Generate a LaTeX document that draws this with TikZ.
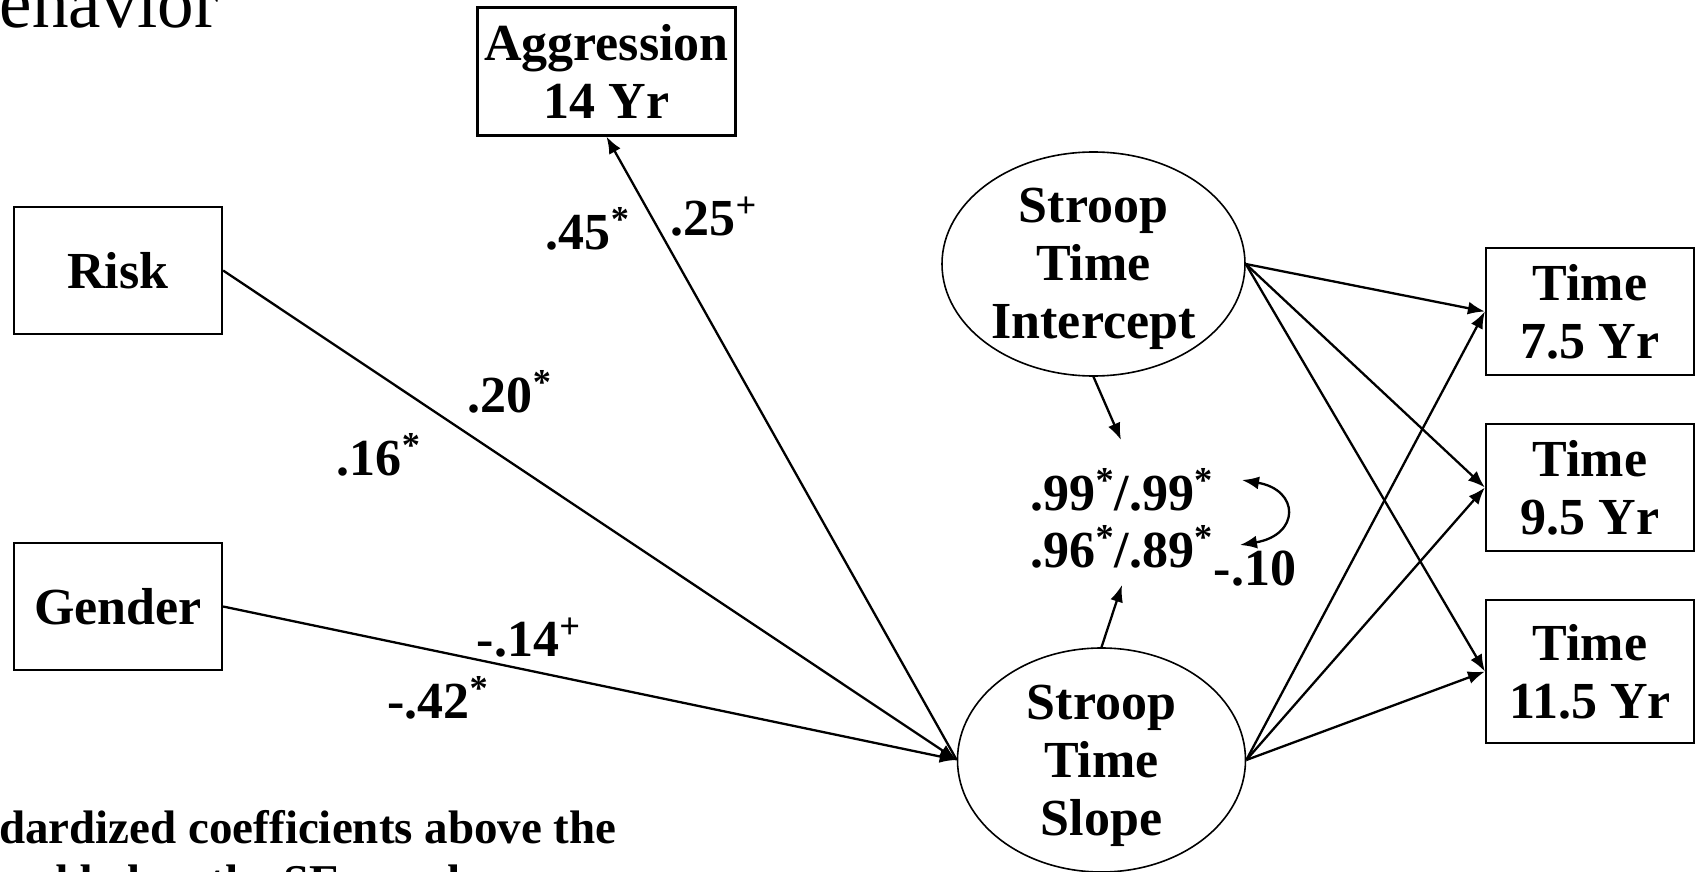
\documentclass[tikz,border=0pt]{standalone}
\usepackage{fontspec}
\setmainfont{Liberation Serif}
\usetikzlibrary{arrows.meta,shapes.geometric}
\newcommand{\lblfont}{\fontsize{26}{29}\selectfont\bfseries}
\newcommand{\sig}{\textsuperscript{*}}
\newcommand{\trend}{\textsuperscript{+}}

\begin{document}
\begin{tikzpicture}[x=0.5pt, y=-0.5pt, >={Latex[length=8.5pt,width=6.5pt]},
    box/.style={draw, rectangle, line width=1.1pt, minimum width=104pt, minimum height=63.5pt, align=center, font=\lblfont},
    latent/.style={draw, ellipse, line width=0.8pt, inner sep=0pt},
    coef/.style={font=\lblfont, inner sep=0pt, align=center},
    path/.style={->, line width=1.15pt}]
    \useasboundingbox (0,0) rectangle (1698,872);
    \clip (0,0) rectangle (1698,872);
    % Title and note (cut by the slide edge)
    \node[anchor=base east, inner sep=0pt, font=\fontsize{36.5}{40}\selectfont] (title) at (219,28) {Behavior};
    \node[anchor=base east, inner sep=0pt, font=\fontsize{23.5}{28}\selectfont\bfseries] (note1) at (617,843) {Standardized coefficients above the};
    \node[anchor=base west, inner sep=0pt, font=\fontsize{23.5}{28}\selectfont\bfseries] (note2) at ([yshift=-27pt]note1.base west) {line and below the SE are shown};
    % Observed predictors
    \node[box] (risk) at (118,270.5) {Risk};
    \node[box] (gender) at (118,606.5) {Gender};
    \node[box, minimum width=128pt, minimum height=64pt] (aggr) at (606.5,71.5) {Aggression\\14 Yr};
    % Latent growth factors
    \node[latent, minimum width=151.5pt, minimum height=112pt] (icpt) at (1093.5,264) {};
    \node[coef] (icpttxt) at (1093.5,269) {Stroop\\Time\\Intercept};
    \node[latent, minimum width=144pt, minimum height=112pt] (slope) at (1101.5,760) {};
    \node[coef] (slopetxt) at (1101.5,766) {Stroop\\Time\\Slope};
    % Time indicators
    \node[box] (t75) at (1590,311.5) {Time\\7.5 Yr};
    \node[box] (t95) at (1590,487.5) {Time\\9.5 Yr};
    \node[box, minimum height=71.5pt] (t115) at (1590,671.5) {Time\\11.5 Yr};
    % Loadings / correlation
    \node[coef] (load1) at (1122,490) {.99\sig/.99\sig};
    \node[coef] (load2) at (1122,547) {.96\sig/.89\sig};
    \node[coef] (corr) at (1255,569) {-.10};
    \coordinate (icptend) at (1121,440);
    \coordinate (slopeend) at (1122,585);
    \coordinate (cvtop) at (1242,480);
    \coordinate (cvbot) at (1240,545);
    % Path coefficients
    \node[coef] (c45) at (588,229) {.45\sig};
    \node[coef] (c25) at (714,217) {.25\trend};
    \node[coef] (c20) at (510,392) {.20\sig};
    \node[coef] (c16) at (379,455) {.16\sig};
    \node[coef] (c14) at (529,638) {-.14\trend};
    \node[coef] (c42) at (438,698) {-.42\sig};
    % Arrows
    \draw[path] (risk.east) -- (slope.west);
    \draw[path] (gender.east) -- (slope.west);
    \draw[path] (slope.west) -- (aggr.south);
    \foreach \t in {t75,t95,t115} {
        \draw[path] (icpt.east) -- (\t.west);
        \draw[path] (slope.east) -- (\t.west);
    }
    \draw[path] (icpt.south) -- (icptend);
    \draw[path] (slope.north) -- (slopeend);
    \draw[<->, line width=1.15pt] (cvtop) .. controls (1300,490) and (1300,535) .. (cvbot);
\end{tikzpicture}
\end{document}
